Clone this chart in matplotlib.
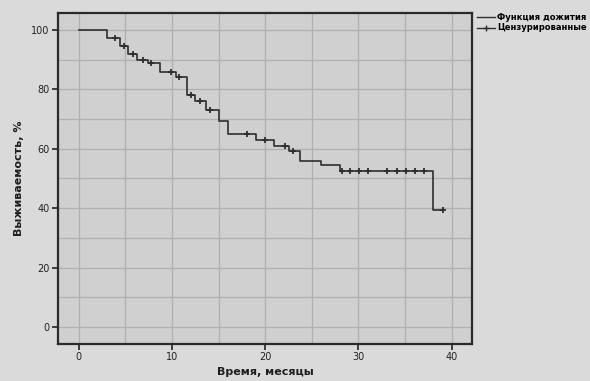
"""Kaplan-Meier survival curve."""

import matplotlib
matplotlib.use('Agg')
from matplotlib import pyplot as plt
from matplotlib.lines import Line2D

# step function of survival (value holds from time until next time)
step_times = [0, 3.0, 4.4, 5.3, 6.3, 7.4, 8.7, 10.4, 11.6, 12.5, 13.6, 15.1,
              16.0, 19.0, 21.0, 22.6, 23.7, 26.0, 28.0, 38.0, 39.1]
step_surv = [100, 97.3, 94.6, 92.0, 90.0, 89.0, 85.7, 84.3, 78.0, 76.2, 73.0,
             69.5, 65.0, 62.8, 60.8, 59.2, 56.0, 54.7, 52.5, 39.3, 39.3]

# censored observations
cens_times = [3.9, 4.9, 5.8, 6.9, 7.8, 9.9, 10.8, 12.0, 13.0, 14.1, 18.1,
              20.0, 22.1, 23.0, 28.3, 29.1, 30.1, 31.0, 33.1, 34.1, 35.1,
              36.1, 37.0, 39.1]
cens_surv = [97.3, 94.6, 92.0, 90.0, 89.0, 85.7, 84.3, 78.0, 76.2, 73.0, 65.0,
             62.8, 60.8, 59.2, 52.5, 52.5, 52.5, 52.5, 52.5, 52.5, 52.5,
             52.5, 52.5, 39.3]

x_ticks = [0, 10, 20, 30, 40]
y_ticks = [0, 20, 40, 60, 80, 100]

LINE = '#2e2e2e'


def plot_survival():
    """Draw the survival curve."""
    fig = plt.figure(figsize=(5.9, 3.81), dpi=100, facecolor='#dadada')
    ax = fig.add_axes([0.098, 0.097, 0.702, 0.869])
    ax.set_facecolor('#d0d0d0')

    ax.step(step_times, step_surv, where='post', color=LINE, lw=1.2)
    ax.plot(cens_times, cens_surv, ls='none', marker='+', ms=5, mew=1.3,
            color=LINE)

    ax.set_xlim(-2.25, 42.2)
    ax.set_ylim(-5.7, 105.7)
    ax.set_xticks(x_ticks)
    ax.set_yticks(y_ticks)
    ax.set_xticks(range(5, 45, 10), minor=True)
    ax.set_yticks(range(10, 101, 20), minor=True)
    ax.grid(True, which='both', color='#b0b0b0', lw=0.9)
    ax.set_axisbelow(True)
    ax.tick_params(which='minor', length=0)
    ax.tick_params(which='major', length=4, width=1.2, direction='out',
                   labelsize=7, colors='#222222', pad=2)
    for spine in ax.spines.values():
        spine.set_color('#2a2a2a')
        spine.set_linewidth(1.6)

    ax.set_xlabel('Время, месяцы', fontsize=8, fontweight='bold',
                  color='#1e1e1e', labelpad=3)
    ax.set_ylabel('Выживаемость, %', fontsize=8, fontweight='bold',
                  color='#1e1e1e', labelpad=5)

    handles = [
        Line2D([], [], color=LINE, lw=1.0, drawstyle='steps-post'),
        Line2D([], [], color=LINE, lw=1.0, marker='+', ms=5),
    ]
    fig.legend(handles, ['Функция дожития', 'Цензурированные'],
               loc='upper left', bbox_to_anchor=(0.795, 0.985),
               frameon=False, handlelength=2.2,
               handletextpad=0.3, labelspacing=0.15,
               prop={'weight': 'bold', 'size': 6})

    fig.savefig('out.png', dpi=100, facecolor=fig.get_facecolor())


def main():
    """Plot."""
    plot_survival()


if __name__ == '__main__':
    main()
